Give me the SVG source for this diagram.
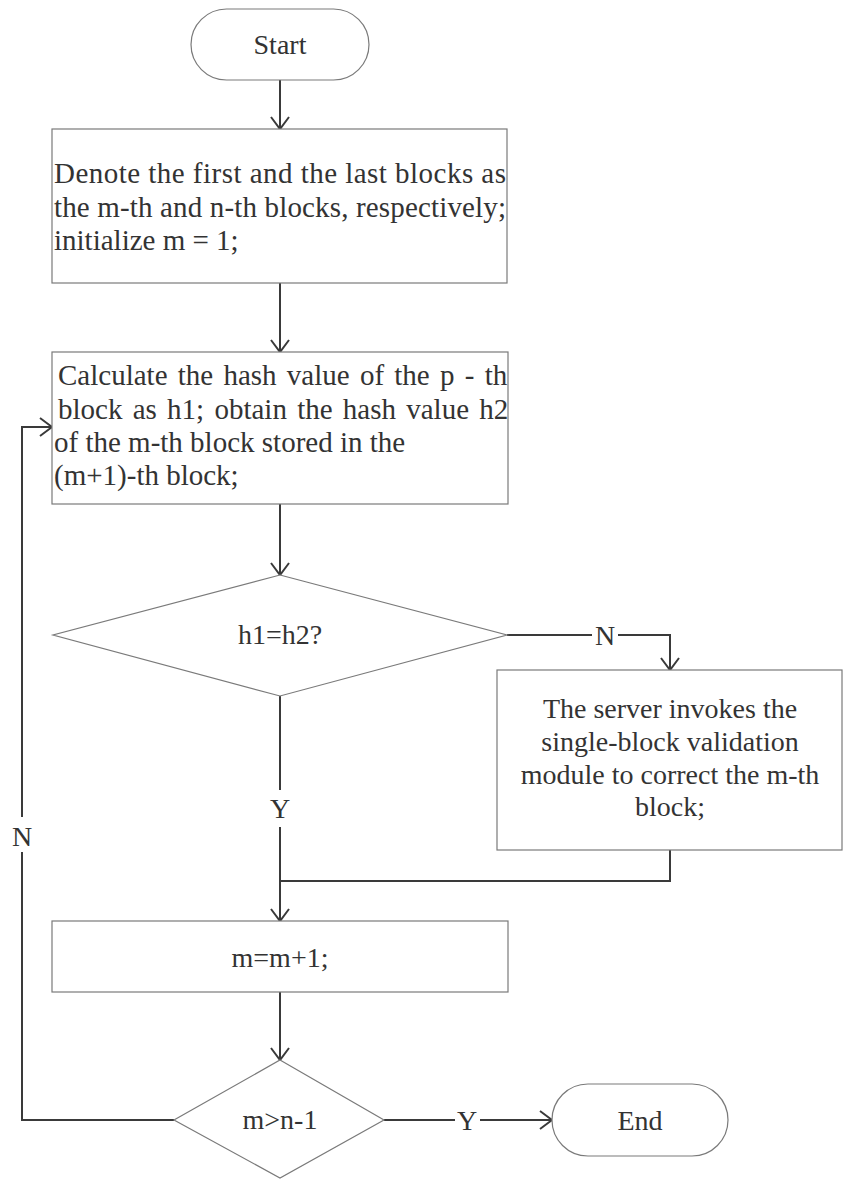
<svg xmlns="http://www.w3.org/2000/svg" width="843" height="1179" viewBox="0 0 843 1179">
  <style>
    .shape { fill: #ffffff; stroke: #7a7a7a; stroke-width: 1.2; }
    .wire { fill: none; stroke: #3a3a3a; stroke-width: 2; }
    text { font-family: "Liberation Serif", "Times New Roman", serif; font-size: 28px; fill: #333333; }
    .c { text-anchor: middle; }
    .big { font-size: 29px; }
  </style>
  <defs>
    <marker id="arrow" viewBox="0 0 20 20" refX="18" refY="10" markerWidth="20" markerHeight="20" markerUnits="userSpaceOnUse" orient="auto">
      <path d="M6,1 L18,10 L6,19" fill="none" stroke="#3a3a3a" stroke-width="2"/>
    </marker>
  </defs>
  <rect width="843" height="1179" fill="#ffffff"/>

  <!-- connectors -->
  <g id="connectors">
    <path class="wire" d="M280,80 V129" marker-end="url(#arrow)"/>
    <path class="wire" d="M280,283 V352" marker-end="url(#arrow)"/>
    <path class="wire" d="M280,504 V575" marker-end="url(#arrow)"/>
    <path class="wire" d="M507,635 H592"/>
    <path class="wire" d="M618,635 H670 V670" marker-end="url(#arrow)"/>
    <path class="wire" d="M280,696 V790"/>
    <path class="wire" d="M280,827 V921" marker-end="url(#arrow)"/>
    <path class="wire" d="M670,850 V881 H280"/>
    <path class="wire" d="M280,992 V1060" marker-end="url(#arrow)"/>
    <path class="wire" d="M384,1120 H455"/>
    <path class="wire" d="M480,1120 H552" marker-end="url(#arrow)"/>
    <path class="wire" d="M174,1120 H22 V852"/>
    <path class="wire" d="M22,817 V427 H52" marker-end="url(#arrow)"/>
    <text class="c" x="605" y="645">N</text>
    <text class="c" x="280" y="818">Y</text>
    <text class="c" x="467" y="1130">Y</text>
    <text class="c" x="22" y="846">N</text>
  </g>

  <g id="start">
    <rect class="shape" x="191" y="9" width="178" height="71" rx="35.5"/>
    <text class="c" x="280" y="54">Start</text>
  </g>

  <g id="init">
    <rect class="shape" x="52" y="129" width="455" height="154"/>
    <text class="big" x="54" y="183" textLength="452" lengthAdjust="spacing">Denote the first and the last blocks as</text>
    <text class="big" x="54" y="217" textLength="452" lengthAdjust="spacing">the m-th and n-th blocks, respectively;</text>
    <text class="big" x="54" y="250">initialize m = 1;</text>
  </g>

  <g id="hash">
    <rect class="shape" x="52" y="352" width="456" height="152"/>
    <text class="big" x="58" y="385" style="word-spacing:3px">Calculate the hash value of the p - th</text>
    <text class="big" x="58" y="419" style="word-spacing:3px">block as h1; obtain the hash value h2</text>
    <text class="big" x="54" y="452">of the m-th block stored in the</text>
    <text class="big" x="54" y="485">(m+1)-th block;</text>
  </g>

  <g id="compare">
    <polygon class="shape" points="280,575 507,635 280,696 53,635"/>
    <text class="c" x="280" y="644">h1=h2?</text>
  </g>

  <g id="repair">
    <rect class="shape" x="497" y="670" width="345" height="180"/>
    <text class="c" x="670" y="718">The server invokes the</text>
    <text class="c" x="670" y="751">single-block validation</text>
    <text class="c" x="670" y="784">module to correct the m-th</text>
    <text class="c" x="670" y="816">block;</text>
  </g>

  <g id="increment">
    <rect class="shape" x="52" y="921" width="456" height="71"/>
    <text class="c" x="280" y="967">m=m+1;</text>
  </g>

  <g id="check">
    <polygon class="shape" points="280,1060 384,1120 280,1178 174,1120"/>
    <text class="c" x="280" y="1129">m&gt;n-1</text>
  </g>

  <g id="end">
    <rect class="shape" x="552" y="1084" width="176" height="72" rx="36"/>
    <text class="c" x="640" y="1130">End</text>
  </g>
</svg>
